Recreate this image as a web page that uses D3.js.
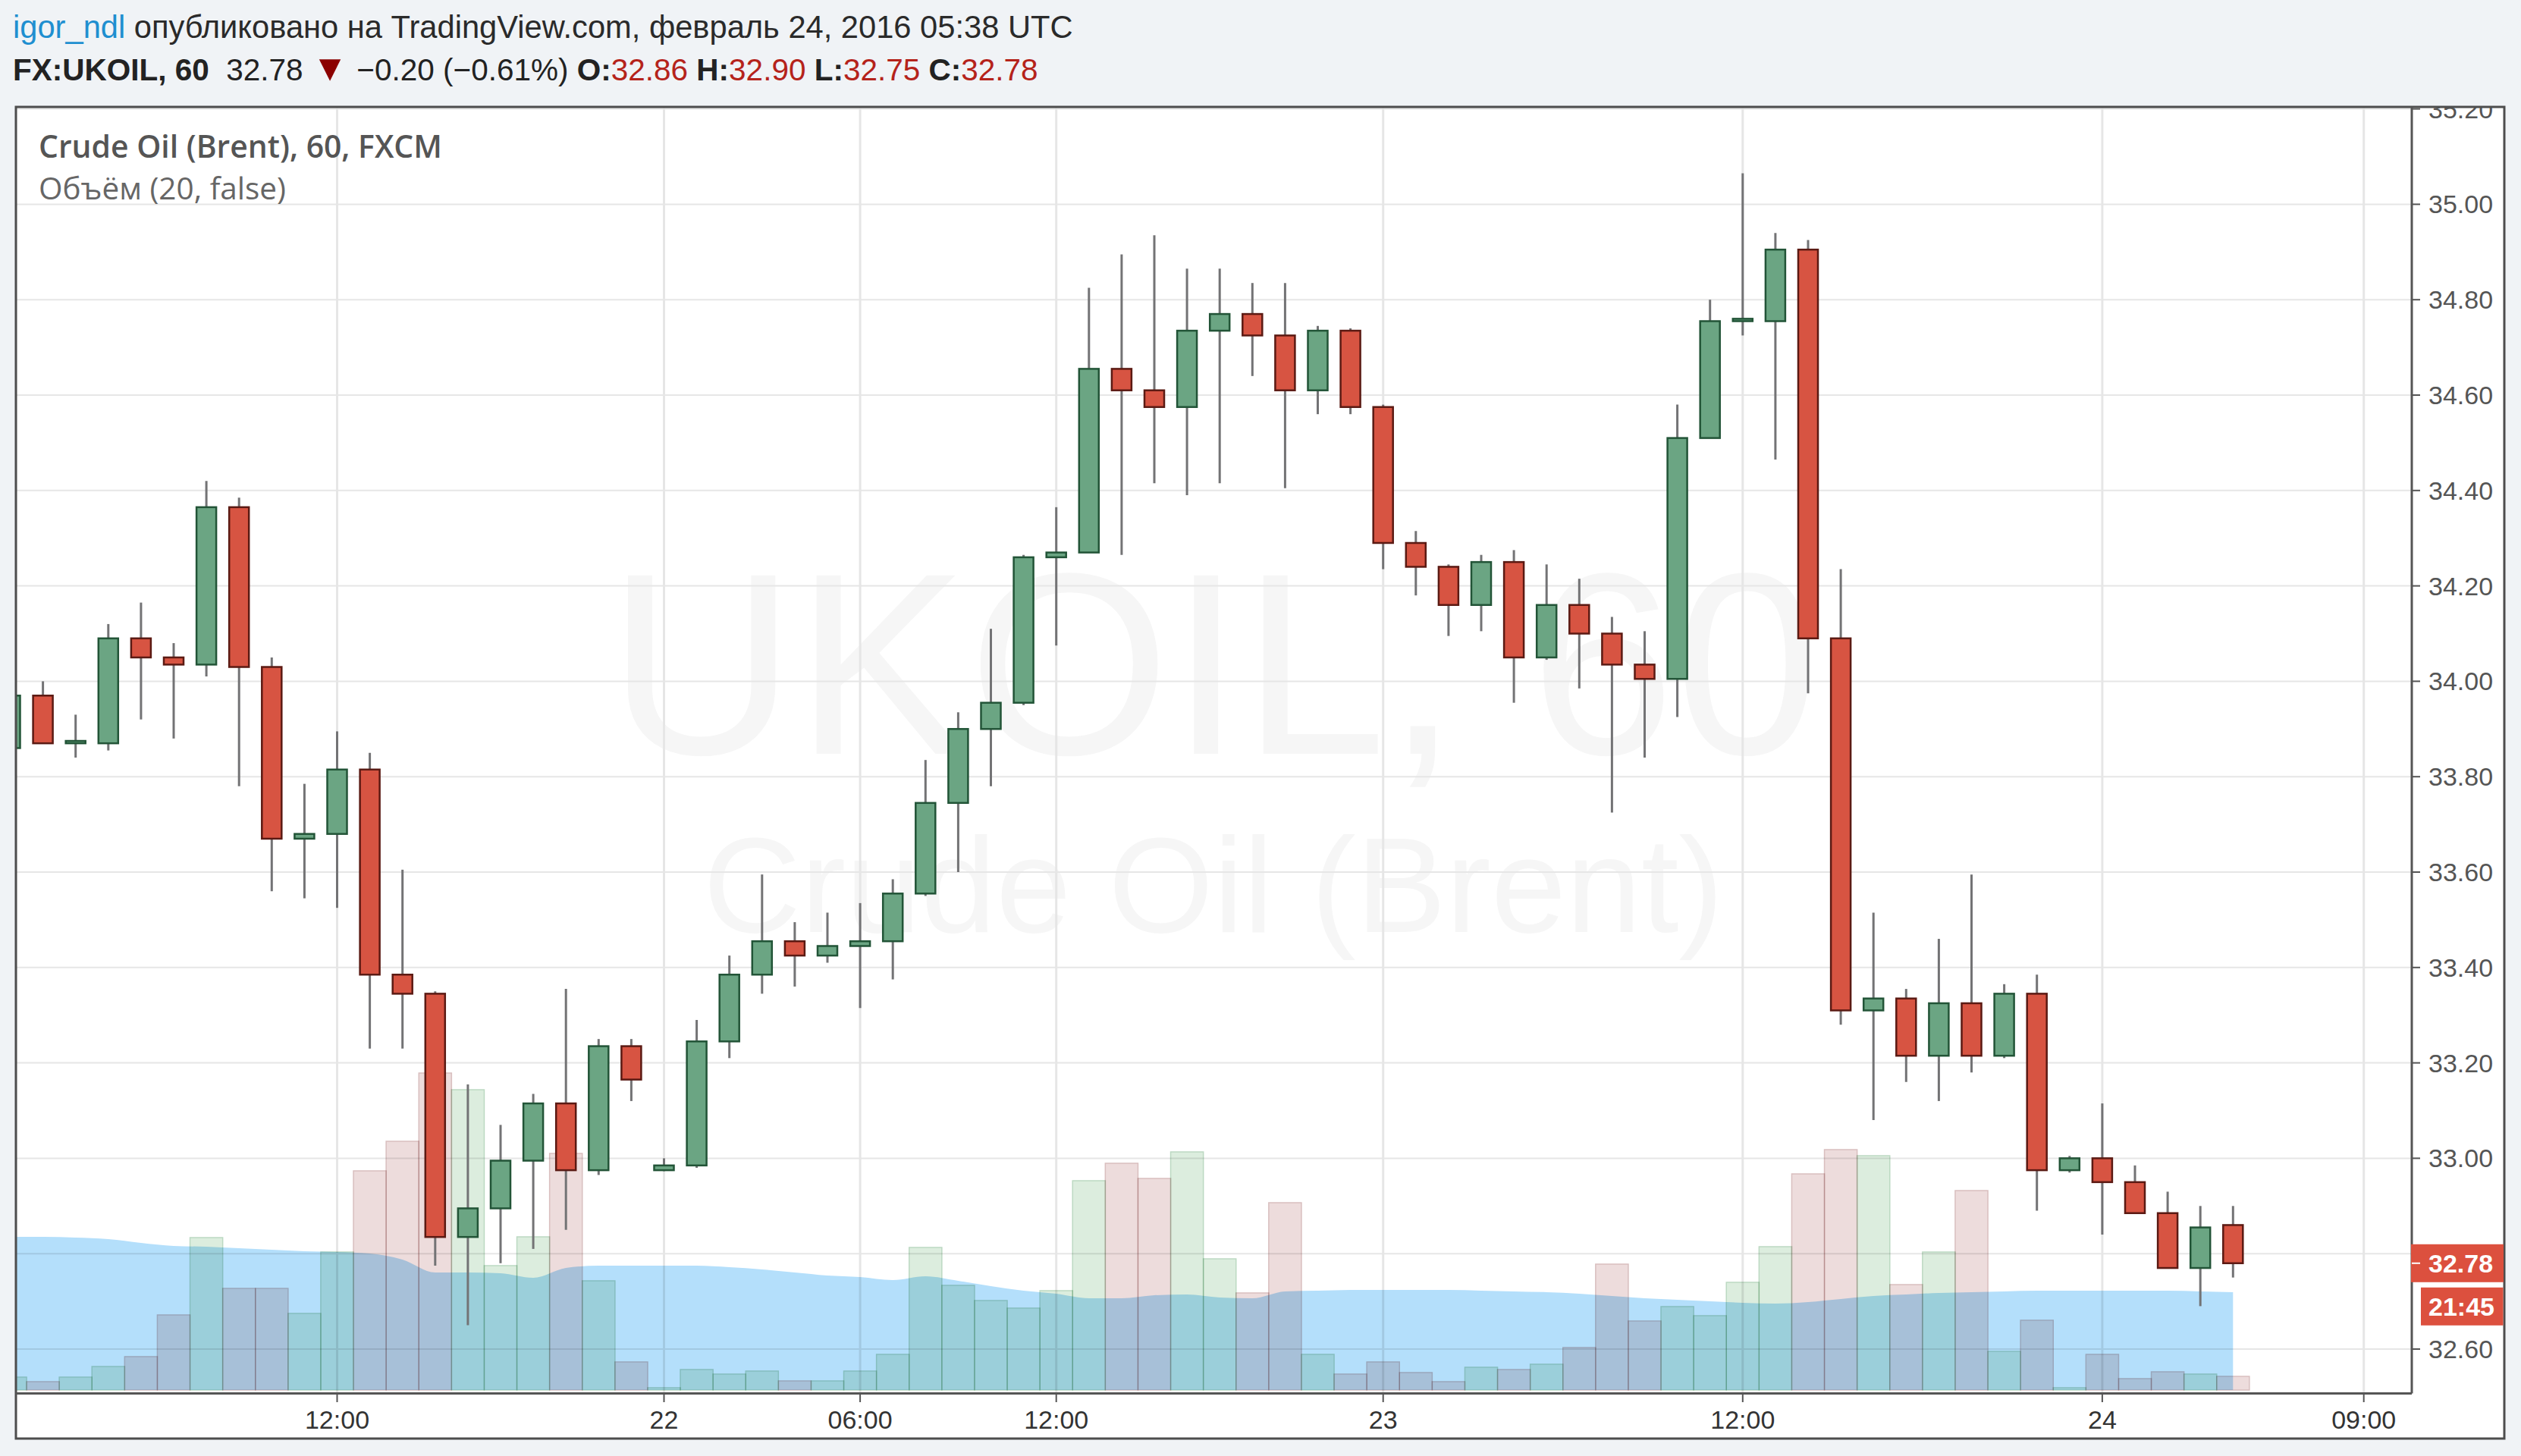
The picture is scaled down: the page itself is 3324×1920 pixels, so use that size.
<!DOCTYPE html>
<html><head><meta charset="utf-8">
<script src="https://cdn.jsdelivr.net/npm/d3@7"></script>
<style>
html,body{margin:0;padding:0;background:#f0f3f6;}
svg{display:block;}
</style></head><body>
<svg id="chart" width="3324" height="1920"></svg>
<script>
// ---------- DATA ----------
const opens = [33.86,33.97,33.87,33.87,34.09,34.05,34.035,34.365,34.03,33.67,33.68,33.815,33.385,33.345,32.835,32.895,32.995,33.115,32.975,33.235,32.975,32.985,33.245,33.385,33.455,33.425,33.445,33.455,33.555,33.745,33.90,33.955,34.26,34.27,34.655,34.61,34.575,34.735,34.77,34.725,34.61,34.735,34.575,34.29,34.24,34.16,34.25,34.05,34.16,34.10,34.035,34.005,34.51,34.755,34.755,34.905,34.09,33.31,33.335,33.215,33.325,33.215,33.345,32.975,33.0,32.95,32.885,32.77,32.86];
const highs = [33.99,34.00,33.93,34.12,34.165,34.08,34.42,34.385,34.05,33.785,33.895,33.85,33.605,33.35,33.155,33.07,33.135,33.355,33.25,33.25,33.0,33.29,33.425,33.595,33.495,33.515,33.535,33.585,33.835,33.935,34.11,34.265,34.365,34.825,34.895,34.935,34.865,34.865,34.835,34.835,34.745,34.74,34.58,34.315,34.245,34.265,34.275,34.245,34.215,34.135,34.105,34.58,34.80,35.065,34.94,34.925,34.235,33.515,33.355,33.46,33.595,33.365,33.385,33.005,33.115,32.985,32.93,32.90,32.90];
const lows = [33.84,33.87,33.84,33.855,33.92,33.88,34.01,33.78,33.56,33.545,33.525,33.23,33.23,32.775,32.65,32.78,32.81,32.85,32.965,33.12,32.973,32.98,33.21,33.345,33.36,33.41,33.315,33.375,33.55,33.60,33.78,33.95,34.075,34.27,34.265,34.415,34.39,34.415,34.64,34.405,34.56,34.56,34.235,34.18,34.095,34.105,33.955,34.045,33.985,33.725,33.84,33.925,34.51,34.725,34.465,33.975,33.28,33.08,33.16,33.12,33.18,33.21,32.89,32.97,32.84,32.885,32.77,32.69,32.75];
const closes = [33.97,33.87,33.875,34.09,34.05,34.035,34.365,34.03,33.67,33.68,33.815,33.385,33.345,32.835,32.895,32.995,33.115,32.975,33.235,33.165,32.985,33.245,33.385,33.455,33.425,33.445,33.455,33.555,33.745,33.90,33.955,34.26,34.27,34.655,34.61,34.575,34.735,34.77,34.725,34.61,34.735,34.575,34.29,34.24,34.16,34.25,34.05,34.16,34.10,34.035,34.005,34.51,34.755,34.76,34.905,34.09,33.31,33.335,33.215,33.325,33.215,33.345,32.975,33.0,32.95,32.885,32.77,32.855,32.78];
const volumes = [17,11,17,31,44,99,201,134,134,101,182,289,328,418,396,164,202,312,144,37,3,27,21,25,12,12,25,47,188,138,118,108,131,276,299,279,314,173,128,247,47,21,37,23,11,30,27,34,56,166,91,110,98,142,189,285,317,309,139,182,263,51,92,3,47,15,24,21,18];
const volumeMA = [202,202,201,199,194,190,189,187,185,183,182,180,172,155,155,154,148,161,164,164,164,164,162,159,155,151,149,145,150,144,137,131,127,121,121,125,126,122,121,130,131,132,132,132,132,131,130,129,127,124,121,119,117,115,114,116,120,124,126,128,129,130,131,131,131,131,131,130,129];
const priceTicks = [32.6,32.8,33.0,33.2,33.4,33.6,33.8,34.0,34.2,34.4,34.6,34.8,35.0,35.2];
const timeTickBars = [10,20,26,32,42,53,64,72];
const timeTickLabels = ["12:00","22","06:00","12:00","23","12:00","24","09:00"];
const lastPrice = 32.78;
const lastPriceLabel = "32.78";
const countdownLabel = "21:45";

// ---------- LAYOUT ----------
const svg = d3.select('#chart');
const F = {l:21, t:141, r:3302, b:1897};
const P = {l:21, t:141, r:3180, b:1836};
const n = closes.length;
const x = d3.scaleLinear().domain([0, n-1]).range([13.5, 2944.3]);
const y = d3.scaleLinear().domain([32.6, 35.0]).range([1779, 269.4]);
const yv = d3.scaleLinear().domain([0, 400]).range([1833, 1433]);
const step = x(1) - x(0);
const bodyW = 26;

const GREEN = '#6ba583', GREEN_D = '#225437', RED = '#d75442', RED_D = '#5b1a13';

svg.append('rect').attr('width',3324).attr('height',1920).attr('fill','#f0f3f6');
svg.append('rect').attr('x',F.l).attr('y',F.t).attr('width',F.r-F.l).attr('height',F.b-F.t).attr('fill','#fff');

const defs = svg.append('defs');
defs.append('clipPath').attr('id','plotClip').append('rect')
  .attr('x',P.l).attr('y',P.t).attr('width',P.r-P.l).attr('height',P.b-P.t);
defs.append('clipPath').attr('id','axisClip').append('rect')
  .attr('x',P.r).attr('y',F.t+1).attr('width',F.r-P.r).attr('height',P.b-F.t);

const plot = svg.append('g').attr('clip-path','url(#plotClip)');

// watermark
const wm = plot.append('g').attr('fill','#f6f6f6').attr('font-family','Liberation Sans, Arial, sans-serif').attr('text-anchor','middle');
wm.append('text').attr('x',1600).attr('y',994).attr('font-size',342).text('UKOIL, 60');
wm.append('text').attr('x',1600).attr('y',1229).attr('font-size',178).text('Crude Oil (Brent)');

// gridlines
plot.append('g').selectAll('line').data(priceTicks).join('line')
  .attr('x1',P.l).attr('x2',P.r).attr('y1',d=>y(d)).attr('y2',d=>y(d))
  .attr('stroke','#e6e6e6').attr('stroke-width',2);
plot.append('g').selectAll('line').data(timeTickBars).join('line')
  .attr('x1',d=>x(d)).attr('x2',d=>x(d)).attr('y1',P.t).attr('y2',P.b)
  .attr('stroke','#e6e6e6').attr('stroke-width',3);

// volume bars
const up = i => closes[i] >= opens[i];
plot.append('g').selectAll('rect').data(volumes).join('rect')
  .attr('x',(d,i)=>x(i)-step/2).attr('width',step)
  .attr('y',d=>yv(d)).attr('height',d=>yv(0)-yv(d))
  .attr('fill',(d,i)=>up(i)?'#dcedde':'#eddcdc')
  .attr('stroke',(d,i)=>up(i)?'#bcd9c2':'#d9bfbf').attr('stroke-width',1.5)
  .style('mix-blend-mode','multiply');

// volume MA area
const area = d3.area().x((d,i)=>x(i)).y0(yv(0)).y1(d=>yv(d)).curve(d3.curveMonotoneX);
plot.append('path').datum(volumeMA).attr('d',area)
  .attr('fill','#b4dffb').style('mix-blend-mode','multiply');

// candles
const cg = plot.append('g');
const idx = d3.range(n);
cg.selectAll('line').data(idx).join('line')
  .attr('x1',i=>x(i)).attr('x2',i=>x(i))
  .attr('y1',i=>y(highs[i])).attr('y2',i=>y(lows[i]))
  .attr('stroke','#737375').attr('stroke-width',3);
cg.selectAll('rect').data(idx).join('rect')
  .attr('x',i=>x(i)-bodyW/2).attr('width',bodyW)
  .attr('y',i=>{const t=y(Math.max(opens[i],closes[i])), h=Math.abs(y(opens[i])-y(closes[i])); return h<3? t-(3-h)/2 : t;})
  .attr('height',i=>Math.max(3, Math.abs(y(opens[i])-y(closes[i]))))
  .attr('fill',i=>up(i)?GREEN:RED)
  .attr('stroke',i=>up(i)?GREEN_D:RED_D).attr('stroke-width',2.5);

// frame & axis lines
svg.append('rect').attr('x',F.l).attr('y',F.t).attr('width',F.r-F.l).attr('height',F.b-F.t)
  .attr('fill','none').attr('stroke','#4d4d4d').attr('stroke-width',3);
svg.append('line').attr('x1',P.r).attr('x2',P.r).attr('y1',F.t).attr('y2',P.b+1.5)
  .attr('stroke','#555').attr('stroke-width',3);
svg.append('line').attr('x1',F.l).attr('x2',P.r).attr('y1',P.b+1.5).attr('y2',P.b+1.5)
  .attr('stroke','#555').attr('stroke-width',3);

// time axis
const ta = svg.append('g').attr('font-family','Liberation Sans, Arial, sans-serif').attr('font-size',34).attr('fill','#333');
ta.selectAll('line').data(timeTickBars).join('line')
  .attr('x1',d=>x(d)).attr('x2',d=>x(d)).attr('y1',P.b+3).attr('y2',P.b+13)
  .attr('stroke','#555').attr('stroke-width',2);
ta.selectAll('text').data(timeTickBars).join('text')
  .attr('x',d=>x(d)).attr('y',1884).attr('text-anchor','middle')
  .text((d,i)=>timeTickLabels[i]);

// price axis (labels hidden under the last-price box are skipped, as in the reference)
const ly = y(lastPrice);
const shownTicks = priceTicks.filter(d => Math.abs(y(d) - ly) > 40);
const pa = svg.append('g').attr('clip-path','url(#axisClip)').attr('font-family','Liberation Sans, Arial, sans-serif').attr('font-size',34).attr('fill','#555');
pa.selectAll('line').data(shownTicks).join('line')
  .attr('x1',P.r).attr('x2',P.r+11).attr('y1',d=>y(d)).attr('y2',d=>y(d))
  .attr('stroke','#555').attr('stroke-width',2);
pa.selectAll('text').data(shownTicks).join('text')
  .attr('x',3202).attr('y',d=>y(d)).attr('dy','0.35em').text(d=>d.toFixed(2));

// last price + countdown
svg.append('rect').attr('x',P.r-1).attr('y',ly-25).attr('width',F.r-P.r).attr('height',50).attr('fill','#dc503e');
svg.append('line').attr('x1',P.r).attr('x2',P.r+11).attr('y1',ly).attr('y2',ly).attr('stroke','#fff').attr('stroke-width',2);
svg.append('text').attr('x',3202).attr('y',ly).attr('dy','0.35em').attr('font-family','Liberation Sans, Arial, sans-serif')
  .attr('font-size',34).attr('font-weight','bold').attr('fill','#fff').text(lastPriceLabel);
svg.append('rect').attr('x',3192).attr('y',ly+32).attr('width',F.r-3192-1.5).attr('height',50).attr('fill','#dc503e');
svg.append('text').attr('x',3202).attr('y',ly+57).attr('dy','0.35em').attr('font-family','Liberation Sans, Arial, sans-serif')
  .attr('font-size',34).attr('font-weight','bold').attr('fill','#fff').text(countdownLabel);

// legend inside chart
function fit(sel, target){ const w = sel.node().getComputedTextLength(); const fs = +sel.attr('font-size'); sel.attr('font-size', fs*target/w); }
const lg1 = svg.append('text').attr('x',51).attr('y',208).attr('font-family','Open Sans, sans-serif').attr('font-weight',600)
  .attr('font-size',36).attr('fill','#555').text('Crude Oil (Brent), 60, FXCM');
fit(lg1, 532);
const lg2 = svg.append('text').attr('x',51).attr('y',263).attr('font-family','Open Sans, sans-serif')
  .attr('font-size',36).attr('fill','#666').text('Объём (20, false)');
fit(lg2, 326);

// header
const h1 = svg.append('text').attr('x',17).attr('y',50).attr('font-family','Liberation Sans, Arial, sans-serif').attr('font-size',40).attr('fill','#2a2a2a');
h1.append('tspan').attr('fill','#1f8fd0').text('igor_ndl');
h1.append('tspan').text(' опубликовано на TradingView.com, февраль 24, 2016 05:38 UTC');
fit(h1, 1398);
const h2 = svg.append('text').attr('x',17).attr('y',106).attr('font-family','Liberation Sans, Arial, sans-serif').attr('font-size',34).attr('fill','#222');
h2.append('tspan').attr('font-weight','bold').text('FX:UKOIL, 60');
h2.append('tspan').text('\u00a0\u00a032.78 ');
h2.append('tspan').attr('fill','#8b0000').attr('font-size','1.2em').text('▼');
h2.append('tspan').text(' −0.20 (−0.61%) ');
[['O:','32.86'],['H:','32.90'],['L:','32.75'],['C:','32.78']].forEach((p,k)=>{
  h2.append('tspan').attr('font-weight','bold').text((k?' ':'')+p[0]);
  h2.append('tspan').attr('fill','#b5231b').text(p[1]);
});
fit(h2, 1352);
</script>
</body></html>
